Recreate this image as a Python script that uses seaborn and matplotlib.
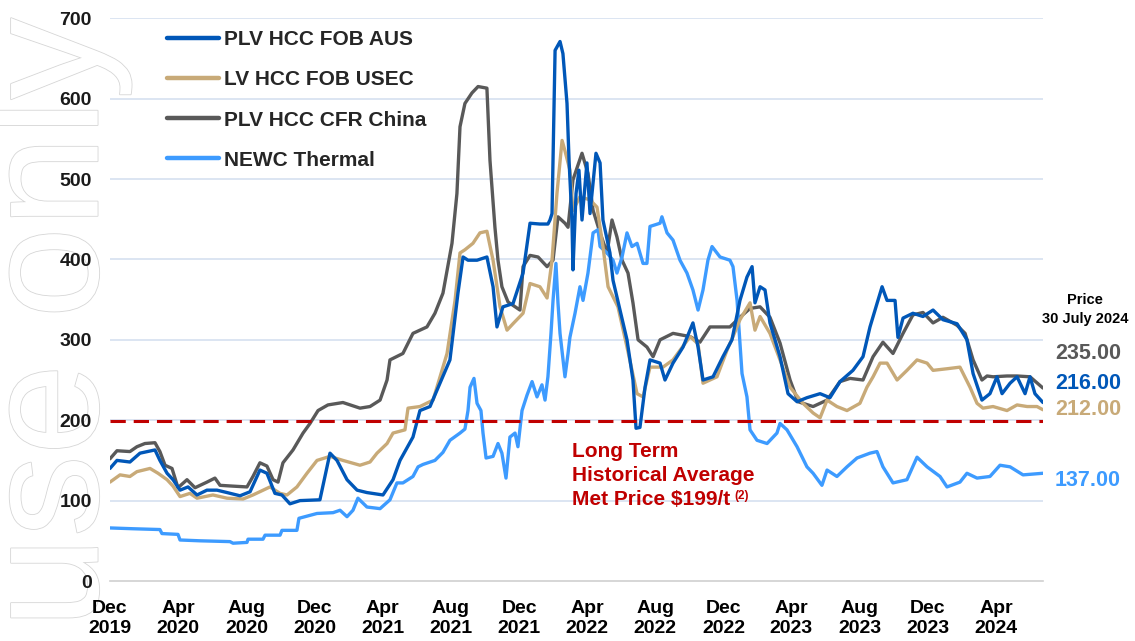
import numpy as np
import pandas as pd
import matplotlib
matplotlib.use("Agg")
import matplotlib.pyplot as plt
import matplotlib.dates as mdates
import matplotlib.patheffects as pe
import seaborn as sns

# x values are months elapsed since 1 Dec 2019, y values are US$/t
aus_m = [0, 0.41, 1.17, 1.76, 2.64, 2.93, 3.35, 3.70, 4.11, 4.58, 5.11, 5.69, 6.28, 6.87, 7.63, 8.22,
         8.80, 9.21, 9.68, 10.09, 10.56, 11.15, 12.32, 12.91, 13.32, 13.91, 14.50, 15.08, 16.02, 16.61,
         17.02, 17.78, 18.19, 18.78, 19.95, 20.42, 20.72, 21.01, 21.54, 22.12, 22.48, 22.71, 23.06, 23.65,
         24.24, 24.65, 25.23, 25.70, 25.82, 25.94, 26.12, 26.41, 26.58, 26.82, 26.94, 27.11, 27.17, 27.35,
         27.52, 27.70, 27.99, 28.17, 28.52, 28.76, 28.93, 29.34, 29.52, 29.93, 30.34, 30.69, 30.87, 31.10,
         31.40, 31.69, 32.28, 32.57, 33.04, 33.63, 34.21, 34.51, 34.80, 35.39, 35.97, 36.50, 36.97, 37.38,
         37.68, 37.85, 38.15, 38.44, 38.73, 39.32, 39.79, 40.32, 40.90, 41.67, 42.25, 42.84, 43.60, 44.19,
         44.60, 45.01, 45.31, 45.60, 46.07, 46.24, 46.54, 47.12, 47.71, 48.30, 48.88, 49.71, 50.29, 50.65,
         51.17, 51.64, 52.05, 52.35, 52.82, 53.23, 53.70, 53.99, 54.28, 54.75]
aus_v = [140, 150, 148, 159, 163, 150, 134, 126, 113, 117, 107, 113, 113, 110, 106, 111,
         138, 134, 109, 107, 96, 100, 101, 159, 150, 126, 113, 110, 107, 126,
         150, 179, 212, 217, 275, 358, 403, 399, 399, 403, 366, 316, 341, 345,
         383, 445, 444, 444, 449, 457, 660, 671, 656, 594, 523, 449, 387, 482,
         511, 449, 520, 457, 532, 520, 449, 408, 374, 337, 300, 250, 190, 191,
         241, 275, 271, 250, 271, 291, 321, 291, 250, 254, 279, 300, 349, 378,
         391, 346, 366, 362, 321, 279, 233, 223, 228, 233, 228, 248, 262, 279,
         316, 345, 366, 349, 349, 303, 327, 333, 329, 337, 325, 320, 300, 258,
         225, 233, 254, 233, 246, 254, 233, 254, 233, 222]

usec_m = [0, 0.59, 1.17, 1.58, 2.35, 2.82, 3.35, 3.70, 4.11, 4.69, 5.11, 6.04, 6.87, 7.81, 8.39, 9.39,
          9.98, 10.39, 10.97, 11.56, 12.15, 12.91, 13.67, 14.67, 15.26, 15.67, 16.26, 16.61, 17.31, 17.49,
          18.19, 18.96, 19.78, 20.25, 20.54, 20.83, 21.30, 21.71, 22.12, 22.48, 22.89, 23.30, 23.65, 24.24,
          24.65, 25.23, 25.65, 25.94, 26.23, 26.53, 26.70, 26.99, 27.17, 27.58, 28.17, 28.58, 28.93, 29.23,
          29.81, 30.34, 30.93, 31.28, 31.69, 32.45, 33.04, 34.04, 34.51, 34.80, 35.62, 36.21, 36.56, 36.97,
          37.56, 37.85, 38.15, 38.73, 39.32, 39.91, 40.67, 41.26, 41.67, 42.08, 42.66, 43.25, 44.01, 44.42,
          44.78, 45.19, 45.60, 46.19, 46.77, 47.36, 47.95, 48.30, 49.12, 49.88, 50.47, 50.88, 51.23, 51.82,
          52.64, 53.23, 53.82, 54.40, 54.75]
usec_v = [123, 132, 130, 136, 140, 134, 126, 118, 105, 109, 103, 107, 103, 102, 107, 117,
          109, 107, 117, 134, 150, 155, 150, 144, 148, 159, 171, 184, 188, 215,
          217, 225, 283, 349, 408, 412, 420, 433, 435, 399, 341, 312, 320, 333,
          370, 366, 352, 399, 482, 548, 535, 511, 461, 478, 474, 465, 416, 366,
          341, 291, 233, 229, 266, 266, 275, 304, 295, 246, 254, 287, 304, 325,
          346, 312, 329, 308, 275, 241, 221, 209, 203, 225, 217, 212, 221, 241,
          254, 271, 271, 250, 262, 275, 271, 262, 264, 266, 241, 221, 215, 217,
          212, 219, 217, 217, 213]

china_m = [0, 0.41, 1.17, 1.58, 2.05, 2.64, 2.93, 3.23, 3.64, 3.99, 4.52, 4.99, 5.69, 6.16, 6.46, 7.22,
           8.04, 8.39, 8.80, 9.21, 9.57, 9.86, 10.15, 10.74, 11.33, 11.74, 12.21, 12.79, 13.67, 14.67,
           15.26, 15.85, 16.26, 16.43, 17.19, 17.78, 18.60, 19.07, 19.54, 20.07, 20.36, 20.54, 20.83, 21.24,
           21.60, 22.12, 22.30, 22.59, 22.77, 23.00, 23.36, 24.06, 24.24, 24.65, 25.12, 25.65, 26.00, 26.29,
           26.70, 26.88, 27.17, 27.70, 28.05, 28.35, 28.76, 29.17, 29.46, 29.75, 30.05, 30.40, 30.69, 30.99,
           31.51, 31.87, 32.28, 33.04, 34.04, 34.62, 35.21, 36.38, 36.97, 37.56, 38.15, 38.73, 39.32, 39.91,
           40.38, 41.26, 42.08, 42.84, 43.43, 44.19, 44.78, 45.36, 45.95, 46.54, 47.12, 47.71, 48.30, 48.88,
           49.71, 50.18, 50.65, 51.17, 51.47, 51.82, 52.64, 53.23, 53.99, 54.75]
china_v = [152, 162, 161, 167, 171, 172, 161, 144, 140, 116, 126, 116, 123, 128, 119, 118,
           117, 130, 147, 143, 126, 123, 147, 163, 184, 196, 212, 219, 222, 215,
           217, 225, 250, 275, 283, 308, 316, 333, 358, 420, 482, 565, 594, 607,
           615, 613, 523, 440, 399, 366, 347, 337, 391, 405, 403, 391, 399, 453,
           445, 440, 499, 532, 507, 461, 433, 408, 449, 428, 399, 383, 346, 300,
           291, 279, 300, 308, 304, 297, 316, 316, 328, 339, 341, 328, 296, 250,
           223, 217, 225, 248, 252, 250, 279, 297, 283, 308, 331, 334, 321, 328,
           318, 308, 275, 250, 255, 254, 255, 255, 254, 240]

newc_m = [0, 1.35, 2.93, 3.05, 3.99, 4.11, 5.28, 7.04, 7.22, 8.04, 8.10, 8.98, 9.10, 9.98, 10.09, 10.97,
          11.09, 12.15, 13.09, 13.50, 13.91, 14.26, 14.55, 15.08, 15.85, 16.43, 16.84, 17.19, 17.78, 18.08,
          18.37, 19.07, 19.54, 19.95, 20.54, 20.83, 21.01, 21.13, 21.36, 21.54, 21.77, 21.89, 22.07, 22.48,
          22.77, 23.00, 23.24, 23.47, 23.77, 23.94, 24.18, 24.47, 24.77, 25.06, 25.35, 25.53, 25.70, 25.88,
          26.00, 26.17, 26.29, 26.41, 26.70, 26.88, 26.99, 27.29, 27.58, 27.76, 28.05, 28.35, 28.64, 28.76,
          29.17, 29.52, 29.75, 30.05, 30.34, 30.63, 30.93, 31.28, 31.51, 31.69, 32.28, 32.39, 32.69, 33.04,
          33.45, 33.86, 34.21, 34.51, 34.80, 35.09, 35.33, 35.80, 36.38, 36.56, 36.80, 37.09, 37.38, 37.56,
          37.97, 38.56, 39.14, 39.32, 39.73, 40.32, 40.90, 41.26, 41.78, 42.08, 42.66, 43.25, 43.84, 44.60,
          45.01, 45.36, 45.95, 46.77, 47.36, 47.95, 48.71, 49.12, 49.88, 50.29, 50.88, 51.64, 52.23, 52.82,
          53.58, 54.75]
newc_v = [66, 65, 64, 59, 58, 51, 50, 49, 47, 48, 52, 52, 57, 57, 63, 63,
          78, 84, 85, 88, 80, 88, 103, 92, 90, 101, 122, 122, 130, 142,
          145, 150, 160, 175, 184, 189, 212, 241, 252, 221, 212, 184, 153, 155,
          171, 159, 128, 179, 184, 167, 212, 231, 248, 229, 244, 225, 254, 308,
          349, 395, 346, 308, 254, 283, 303, 333, 366, 349, 383, 433, 437, 416,
          408, 399, 383, 403, 433, 416, 420, 395, 395, 441, 445, 453, 433, 424,
          399, 383, 362, 337, 362, 399, 416, 403, 399, 391, 349, 258, 229, 188,
          175, 171, 184, 196, 188, 167, 142, 134, 119, 138, 130, 142, 153, 159,
          161, 142, 122, 126, 154, 142, 130, 117, 123, 134, 128, 130, 144, 142,
          132, 134]

series_names = ["PLV HCC FOB AUS", "LV HCC FOB USEC", "PLV HCC CFR China", "NEWC Thermal"]
series_colors = ["#0057B8", "#C8AA78", "#595959", "#3D9BFF"]
latest_prices = ["235.00", "216.00", "212.00", "137.00"]
latest_colors = ["#595959", "#0057B8", "#C8AA78", "#3D9BFF"]
long_term_avg = 199

start = pd.Timestamp("2019-12-01")
frames = []
for name, m, v in zip(series_names, [aus_m, usec_m, china_m, newc_m], [aus_v, usec_v, china_v, newc_v]):
    d = start + pd.to_timedelta(np.array(m) * 30.44, unit="D")
    frames.append(pd.DataFrame({"date": d, "price": v, "series": name}))
df = pd.concat(frames, ignore_index=True)

sns.set_theme(style="white")
plt.rcParams["font.family"] = ["Liberation Sans", "DejaVu Sans"]
plt.rcParams["font.weight"] = "bold"

fig = plt.figure(figsize=(11.35, 6.41), dpi=100)
ax = fig.add_axes([0.0969, 0.0936, 0.822, 0.878])
ax.set_facecolor("none")
ax.set_zorder(1)

# watermark down the left side, behind the axes
fig.text(0.086, 0.02, "use only", rotation=90, rotation_mode="anchor", ha="left", va="baseline",
         fontsize=118, fontweight="normal", color="white", zorder=0,
         path_effects=[pe.withStroke(linewidth=1.2, foreground="#D6D6D6")])

for y in range(100, 701, 100):
    ax.axhline(y, color="#D9E3F1", lw=1.3, zorder=0)

# draw China first so AUS sits on top like the original
order = ["PLV HCC CFR China", "NEWC Thermal", "LV HCC FOB USEC", "PLV HCC FOB AUS"]
pal = dict(zip(series_names, series_colors))
for name in order:
    sns.lineplot(data=df[df.series == name], x="date", y="price", color=pal[name], lw=2.4,
                 estimator=None, sort=False, ax=ax, zorder=3)

ax.axhline(long_term_avg, color="#C00000", lw=2.2, ls=(0, (5, 2.6)), zorder=4)

ax.set_ylim(0, 700)
ax.set_xlim(start, df.date.max())
ax.set_yticks(range(0, 701, 100))
ax.xaxis.set_major_locator(mdates.MonthLocator(bymonth=[4, 8, 12]))
ax.xaxis.set_major_formatter(mdates.DateFormatter("%b\n%Y"))
ax.tick_params(axis="x", length=5, color="#BFBFBF", width=1, pad=9, labelsize=14, labelcolor="black")
ax.tick_params(axis="y", length=0, pad=13, labelsize=14, labelcolor="#1a1a1a")
for lab in ax.get_xticklabels() + ax.get_yticklabels():
    lab.set_fontweight("bold")
    lab.set_linespacing(1.2)
for s in ["top", "right", "left"]:
    ax.spines[s].set_visible(False)
ax.spines["bottom"].set_color("#D0D0D0")
ax.spines["bottom"].set_linewidth(1.2)
ax.set_xlabel("")
ax.set_ylabel("")

handles = [plt.Line2D([], [], color=c, lw=3.2) for c in series_colors]
ax.legend(handles, series_names, loc="upper left", bbox_to_anchor=(0.061, 0.979), frameon=False,
          borderpad=0, borderaxespad=0, handlelength=2.5, handletextpad=0.25, labelspacing=1.02,
          prop={"weight": "bold", "size": 15})

# latest price column
tr = ax.get_yaxis_transform()
ax.text(1.045, 0.483, "Price\n30 July 2024", transform=ax.transAxes, ha="center", va="center",
        fontsize=10.5, fontweight="bold", color="black", linespacing=1.45)
for txt, col, yv in zip(latest_prices, latest_colors, [283, 246, 213, 125]):
    ax.text(1.013, yv, txt, transform=tr, ha="left", va="center", fontsize=15.5,
            fontweight="bold", color=col, clip_on=False)

red_lines = ["Long Term", "Historical Average", "Met Price $199/t"]
for line, yv in zip(red_lines, [161, 131.5, 101]):
    t = ax.text(0.495, yv, line, transform=tr, ha="left", va="center", fontsize=15,
                fontweight="bold", color="#C00000")
ax.annotate("(2)", xy=(1, 1), xycoords=t, xytext=(3, 0), textcoords="offset points",
            ha="left", va="top", fontsize=8.5, fontweight="bold", color="#C00000")

fig.savefig("out.png", dpi=100)
